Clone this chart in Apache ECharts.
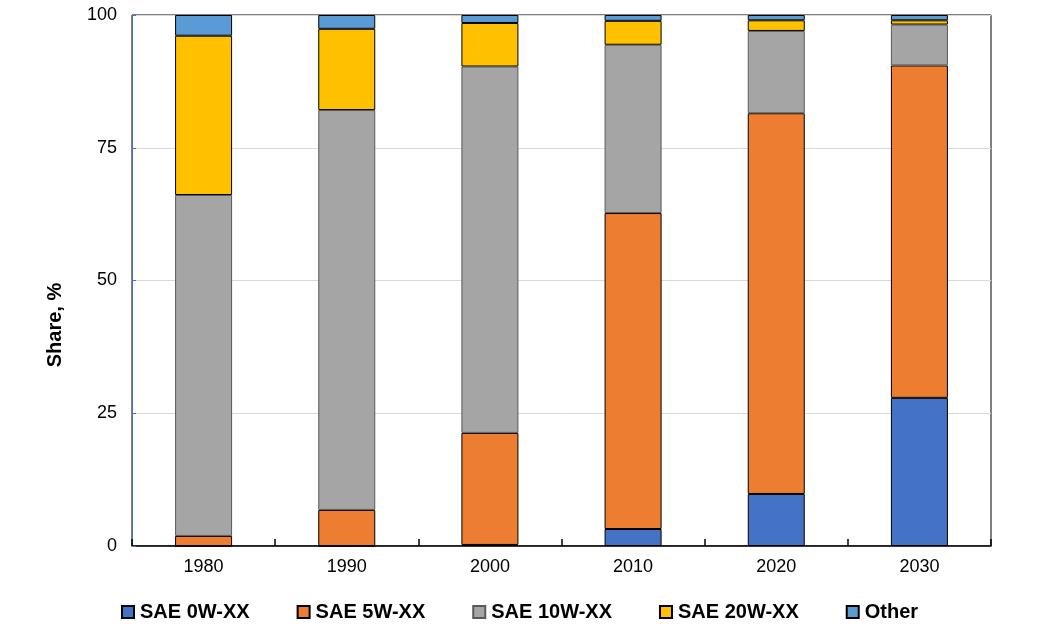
<!DOCTYPE html>
<html>
<head>
<meta charset="utf-8">
<script src="https://cdn.jsdelivr.net/npm/echarts@6/dist/echarts.min.js"></script>
<style>
html,body{margin:0;padding:0;background:#fff;}
#chart{width:1047px;height:632px;}
</style>
</head>
<body>
<div id="chart"></div>
<script>
var categories = ['1980', '1990', '2000', '2010', '2020', '2030'];
var sae0w  = [0,   0,    0.2,  3.2,  9.8,  27.9];
var sae5w  = [1.9, 6.8,  21.1, 59.5, 71.7, 62.6];
var sae10w = [64.2, 75.3, 69.0, 31.7, 15.5, 7.7];
var sae20w = [30.0, 15.3, 8.2,  4.5,  2.0,  0.8];
var other  = [3.9,  2.6,  1.5,  1.1,  1.0,  1.0];
var yTicks = [0, 25, 50, 75, 100];

var FONT = "'Liberation Sans', Arial, sans-serif";

function mk(name, data, color, border) {
  return {
    name: name, type: 'bar', stack: 'total', data: data, barWidth: 57,
    itemStyle: { color: color, borderColor: border, borderWidth: 1 },
    emphasis: { disabled: true }
  };
}

var chart = echarts.init(document.getElementById('chart'), null, { renderer: 'canvas' });
chart.setOption({
  animation: false,
  textStyle: { fontFamily: FONT },
  grid: { left: 132, right: 56, top: 15, bottom: 86, show: true, borderColor: '#000', borderWidth: 1 },
  legend: {
    left: 121, top: 602, padding: 0, icon: 'rect', itemWidth: 12, itemHeight: 12, itemGap: 47,
    textStyle: { fontFamily: FONT, fontSize: 20, fontWeight: 'bold', color: '#000', padding: [0, 0, 0, 1] },
    data: ['SAE 0W-XX', 'SAE 5W-XX', 'SAE 10W-XX', 'SAE 20W-XX', 'Other']
  },
  xAxis: {
    type: 'category', data: categories,
    axisLine: { lineStyle: { color: '#000', width: 1.5 } },
    axisTick: { show: true, inside: true, length: 7, lineStyle: { color: '#000', width: 1.5 } },
    axisLabel: { fontSize: 18, color: '#000', margin: 12, fontFamily: FONT }
  },
  yAxis: {
    type: 'value', min: yTicks[0], max: yTicks[yTicks.length - 1], interval: 25,
    axisLine: { show: true, lineStyle: { color: '#4472C4', width: 1 } },
    axisTick: { show: true, inside: true, length: 4, lineStyle: { color: '#4472C4' } },
    axisLabel: { fontSize: 18, color: '#000', margin: 15, fontFamily: FONT },
    splitLine: { lineStyle: { color: '#D9D9D9', width: 1 } }
  },
  graphic: [{
    type: 'text', x: 55, y: 325, rotation: Math.PI / 2,
    style: { text: 'Share, %', fontFamily: FONT, fontSize: 20, fontWeight: 'bold', fill: '#000', textAlign: 'center', textVerticalAlign: 'middle' }
  }],
  series: [
    mk('SAE 0W-XX', sae0w, '#4472C4', '#000'),
    mk('SAE 5W-XX', sae5w, '#ED7D31', '#000'),
    mk('SAE 10W-XX', sae10w, '#A5A5A5', '#595959'),
    mk('SAE 20W-XX', sae20w, '#FFC000', '#000'),
    mk('Other', other, '#5B9BD5', '#000')
  ]
});
</script>
</body>
</html>
